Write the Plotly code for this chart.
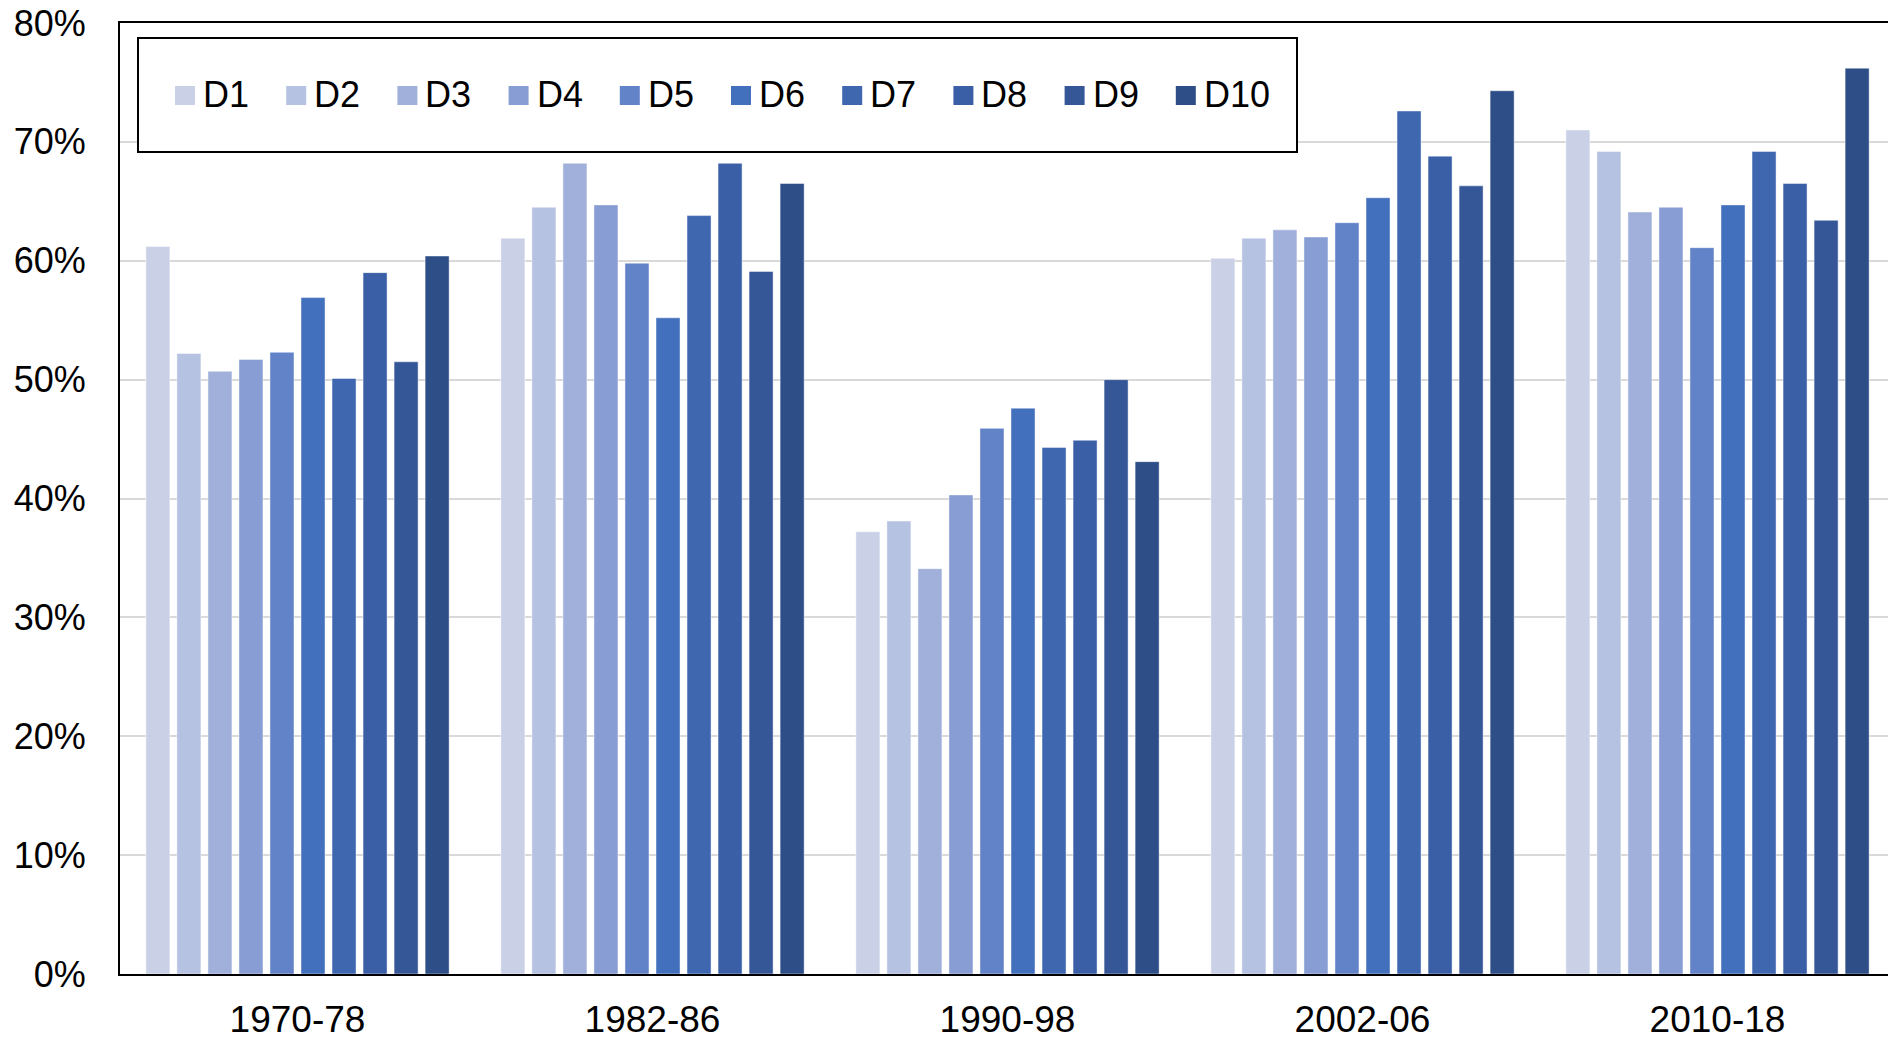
import plotly.graph_objects as go

periods = ["1970-78", "1982-86", "1990-98", "2002-06", "2010-18"]
series_names = ["D1", "D2", "D3", "D4", "D5", "D6", "D7", "D8", "D9", "D10"]
colors = ["#CAD1E7", "#B6C2E1", "#A1B0DA", "#889DD3", "#6283C8",
          "#4270BC", "#3E67B0", "#3A5FA6", "#355797", "#2D4E87"]

# values (%) per decile, one entry per period
D1 = [61.2, 61.9, 37.2, 60.2, 71.0]
D2 = [52.2, 64.5, 38.1, 61.9, 69.2]
D3 = [50.7, 68.2, 34.1, 62.6, 64.1]
D4 = [51.7, 64.7, 40.3, 62.0, 64.5]
D5 = [52.3, 59.8, 45.9, 63.2, 61.1]
D6 = [56.9, 55.2, 47.6, 65.3, 64.7]
D7 = [50.1, 63.8, 44.3, 72.6, 69.2]
D8 = [59.0, 68.2, 44.9, 68.8, 66.5]
D9 = [51.5, 59.1, 50.0, 66.3, 63.4]
D10 = [60.4, 66.5, 43.1, 74.3, 76.2]
series_values = [D1, D2, D3, D4, D5, D6, D7, D8, D9, D10]

y_tick_vals = [0, 10, 20, 30, 40, 50, 60, 70, 80]
y_tick_text = ["0%", "10%", "20%", "30%", "40%", "50%", "60%", "70%", "80%"]

# page body has an 8px margin, so the figure is drawn 8px in from the top-left
OFF = 8
W, H = 1896 - OFF, 1039 - OFF
ML, MR, MT, MB = 120 - OFF, 1, 23 - OFF, 1039 - 974
PW, PH = W - ML - MR, H - MT - MB

def px_x(x):  # page pixel -> paper
    return (x - OFF - ML) / PW

def px_y(y):
    return (H - MB - (y - OFF)) / PH

FONT = "Liberation Sans, Arial, sans-serif"

fig = go.Figure()
for name, vals, col in zip(series_names, series_values, colors):
    fig.add_trace(go.Bar(
        x=periods, y=vals, name=name,
        marker=dict(color=col, line=dict(color="rgba(255,255,255,0.45)", width=1)),
        showlegend=False,
    ))

# legend box and entries (manual, to match the original sizing)
shapes = [dict(type="rect", xref="paper", yref="paper",
               x0=px_x(138), x1=px_x(1297), y0=px_y(152), y1=px_y(38),
               line=dict(color="black", width=2), fillcolor="white", layer="above")]
annotations = []
pitch = 111.2
for i, (name, col) in enumerate(zip(series_names, colors)):
    sx = 175 + i * pitch
    shapes.append(dict(type="rect", xref="paper", yref="paper",
                       x0=px_x(sx), x1=px_x(sx + 20), y0=px_y(105), y1=px_y(86),
                       line=dict(width=0), fillcolor=col, layer="above"))
    annotations.append(dict(xref="paper", yref="paper", x=px_x(sx + 26), y=px_y(95),
                            xanchor="left", yanchor="middle", text=name, showarrow=False,
                            font=dict(family=FONT, size=36, color="black")))

fig.update_layout(
    width=W, height=H,
    margin=dict(l=ML, r=MR, t=MT, b=MB, autoexpand=False),
    paper_bgcolor="white", plot_bgcolor="white",
    barmode="group", bargap=0.126, bargroupgap=0.226,
    font=dict(family=FONT, color="black"),
    shapes=shapes, annotations=annotations,
    showlegend=False,
)
fig.update_xaxes(
    type="category", automargin=False,
    showline=True, linecolor="black", linewidth=2, mirror=True,
    showgrid=False, ticks="", tickfont=dict(size=37, family=FONT, color="black"),
    ticklabelstandoff=12, ticklabeloverflow="allow",
)
fig.update_yaxes(
    automargin=False,
    range=[0, 80], tickvals=y_tick_vals, ticktext=y_tick_text,
    showline=True, linecolor="black", linewidth=2, mirror=True,
    showgrid=True, gridcolor="#D9D9D9", gridwidth=2,
    ticks="", tickfont=dict(size=36, family=FONT, color="black"),
    ticklabelstandoff=25, zeroline=False, ticklabeloverflow="allow",
)

fig.write_html("out.html")
